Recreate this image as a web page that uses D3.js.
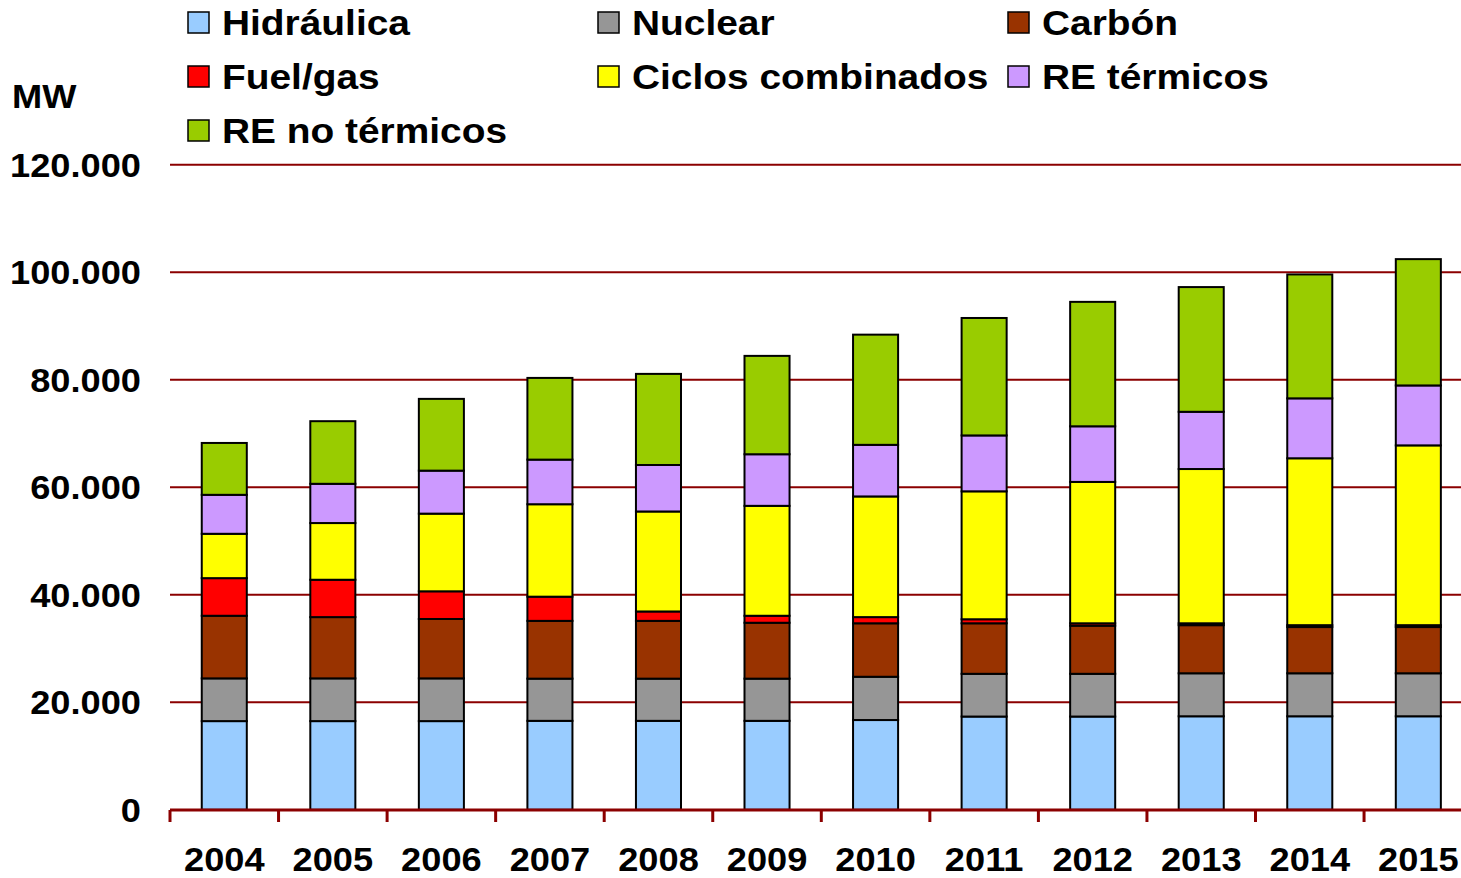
<!DOCTYPE html>
<html>
<head>
<meta charset="utf-8">
<script src="https://cdn.jsdelivr.net/npm/d3@7"></script>
<style>
  body { margin: 0; background: #fff; }
  svg text { font-family: "Liberation Sans", Arial, sans-serif; font-weight: bold; fill: #000; }
</style>
</head>
<body>
<svg id="chart" width="1461" height="878"></svg>
<script>
// data (MW)
const years = ["2004","2005","2006","2007","2008","2009","2010","2011","2012","2013","2014","2015"];
const hidraulica   = [16500,16500,16500,16550,16550,16550,16700,17350,17350,17400,17400,17400];
const nuclear      = [7950,7950,7950,7850,7850,7850,8050,7950,7950,8000,8000,8000];
const carbon       = [11650,11400,11050,10750,10750,10400,9950,9400,8950,8950,8600,8600];
const fuelgas      = [7000,6950,5150,4500,1750,1300,1150,750,450,350,350,350];
const ciclos       = [8250,10550,14450,17200,18600,20450,22450,23800,26300,28700,31050,33450];
const reTermicos   = [7250,7300,8000,8300,8650,9600,9600,10400,10350,10650,11150,11150];
const reNoTermicos = [9650,11650,13350,15200,16950,18300,20500,21850,23150,23200,23050,23500];
const yTicks = [0,20000,40000,60000,80000,100000,120000];

const series = [
  {name:"Hidráulica",        values:hidraulica,   color:"#99ccff"},
  {name:"Nuclear",           values:nuclear,      color:"#969696"},
  {name:"Carbón",            values:carbon,       color:"#993300"},
  {name:"Fuel/gas",          values:fuelgas,      color:"#ff0000"},
  {name:"Ciclos combinados", values:ciclos,       color:"#ffff00"},
  {name:"RE térmicos",       values:reTermicos,   color:"#cc99ff"},
  {name:"RE no térmicos",    values:reNoTermicos, color:"#99cc00"}
];

const svg = d3.select("#chart");
const left = 170, step = 108.55;
const axisStretch = 1.066, legendStretch = 1.08;
const x = d3.scaleBand()
  .domain(years)
  .range([left, left + step*years.length])
  .paddingInner(0.585)
  .paddingOuter(0.2925);
const y = d3.scaleLinear().domain([0,120000]).range([809.8, 164.8]);

// gridlines
svg.append("g")
  .selectAll("line")
  .data(yTicks.filter(d => d > 0))
  .join("line")
  .attr("x1", left).attr("x2", 1461)
  .attr("y1", d => y(d)).attr("y2", d => y(d))
  .attr("stroke", "#8b0000").attr("stroke-width", 2);

// y labels
svg.append("g")
  .selectAll("text")
  .data(yTicks)
  .join("text")
  .attr("transform", d => `translate(141,${y(d) + 12}) scale(${axisStretch},1)`)
  .attr("text-anchor", "end")
  .attr("font-size", 34)
  .text(d => d3.format(",")(d).replace(/,/g, "."));

svg.append("text")
  .attr("transform", `translate(12,108) scale(${axisStretch},1)`)
  .attr("font-size", 34).text("MW");

// stacked bars
const table = years.map((yr, i) => {
  const row = {year: yr};
  series.forEach(s => row[s.name] = s.values[i]);
  return row;
});
const stacked = d3.stack().keys(series.map(s => s.name))(table);

svg.append("g")
  .selectAll("g")
  .data(stacked)
  .join("g")
  .attr("fill", (d, i) => series[i].color)
  .selectAll("rect")
  .data(d => d)
  .join("rect")
  .attr("x", d => x(d.data.year))
  .attr("width", x.bandwidth())
  .attr("y", d => y(d[1]))
  .attr("height", d => y(d[0]) - y(d[1]))
  .attr("stroke", "#000")
  .attr("stroke-width", 2);

// x axis
const axisG = svg.append("g");
axisG.append("line")
  .attr("x1", left).attr("x2", left + step*years.length)
  .attr("y1", 810).attr("y2", 810)
  .attr("stroke", "#8b0000").attr("stroke-width", 3);
axisG.selectAll(".tick")
  .data(d3.range(years.length + 1))
  .join("line")
  .attr("class", "tick")
  .attr("x1", i => left + i*step).attr("x2", i => left + i*step)
  .attr("y1", 810).attr("y2", 822)
  .attr("stroke", "#8b0000").attr("stroke-width", 3);
axisG.selectAll("text")
  .data(years)
  .join("text")
  .attr("transform", d => `translate(${x(d) + x.bandwidth()/2},871) scale(${axisStretch},1)`)
  .attr("text-anchor", "middle")
  .attr("font-size", 34)
  .text(d => d);

// legend
const legend = svg.append("g")
  .selectAll("g")
  .data(series)
  .join("g")
  .attr("transform", (d, i) => `translate(${188 + (i % 3)*410},${12 + Math.floor(i/3)*54})`);
legend.append("rect")
  .attr("width", 21).attr("height", 21)
  .attr("fill", d => d.color)
  .attr("stroke", "#000").attr("stroke-width", 1.5);
legend.append("text")
  .attr("transform", `translate(34,23) scale(${legendStretch},1)`)
  .attr("font-size", 36)
  .text(d => d.name);
</script>
</body>
</html>
